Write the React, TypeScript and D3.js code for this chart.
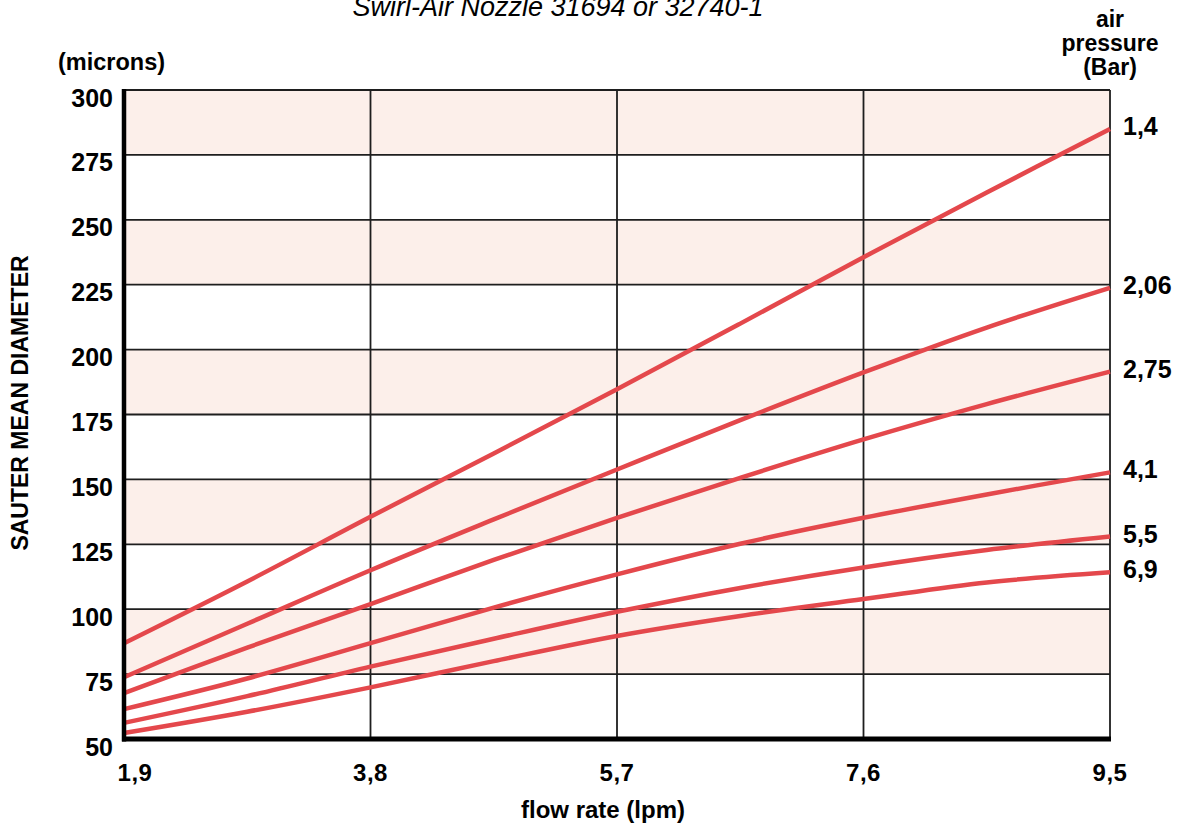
import React from "react";
import * as d3 from "d3";

// flow rate (lpm) sample points
const flowRates = [1.9, 2.85, 3.8, 4.75, 5.7, 6.65, 7.6, 8.55, 9.5];

// sauter mean diameter (microns) per air pressure
const p14 = [86.9, 110.7, 135.6, 160, 184.7, 210, 235.6, 260.5, 285];
const p206 = [73.8, 94.4, 115, 134.6, 153.8, 172.8, 191.2, 208.5, 223.8];
const p275 = [67.7, 85.2, 102, 119, 135.2, 150.6, 165.4, 179, 191.5];
const p41 = [61.5, 73.3, 86.9, 100.6, 113.4, 125.2, 135.2, 144.2, 152.7];
const p55 = [56.2, 66.5, 77.9, 88.6, 99, 108.2, 116.1, 122.8, 128];
const p69 = [52.3, 60.5, 69.9, 80, 89.7, 97.4, 103.9, 110.3, 114.2];

const pressureLabels = ["1,4", "2,06", "2,75", "4,1", "5,5", "6,9"];
const seriesValues = [p14, p206, p275, p41, p55, p69];

const yTicks = [50, 75, 100, 125, 150, 175, 200, 225, 250, 275, 300];
const xTicks = [1.9, 3.8, 5.7, 7.6, 9.5];
const xTickLabels = ["1,9", "3,8", "5,7", "7,6", "9,5"];
const shadedBands = [75, 125, 175, 225, 275];

const W = 1190;
const H = 827;
const FONT = "'Liberation Sans', Arial, sans-serif";
const RED = "#e4484c";

export default function App() {
  const x = d3.scaleLinear().domain([1.9, 9.5]).range([124, 1110]);
  const y = d3.scaleLinear().domain([50, 300]).range([739, 90]);

  const line = d3
    .line<number>()
    .x((_, i) => x(flowRates[i]))
    .y((d) => y(d))
    .curve(d3.curveCatmullRom);

  return (
    <svg
      width={W}
      height={H}
      style={{ position: "absolute", left: 0, top: 0, background: "#fff" }}
      fontFamily={FONT}
    >
      {/* shaded bands */}
      {shadedBands.map((b) => (
        <rect
          key={b}
          x={x(1.9)}
          y={y(b + 25)}
          width={x(9.5) - x(1.9)}
          height={y(b) - y(b + 25)}
          fill="#fcefea"
        />
      ))}

      {/* grid */}
      {yTicks.slice(1).map((t) => (
        <line key={t} x1={x(1.9)} x2={x(9.5)} y1={y(t)} y2={y(t)} stroke="#1e1e1e" strokeWidth={1.8} />
      ))}
      {xTicks.slice(1).map((t) => (
        <line key={t} x1={x(t)} x2={x(t)} y1={y(300)} y2={y(50)} stroke="#1e1e1e" strokeWidth={1.8} />
      ))}

      {/* curves */}
      {seriesValues.map((vals, i) => (
        <path key={i} d={line(vals) || ""} fill="none" stroke={RED} strokeWidth={4.5} />
      ))}

      {/* axes */}
      <line x1={x(1.9)} x2={x(1.9)} y1={y(300) - 1} y2={y(50) + 2.5} stroke="#000" strokeWidth={4.5} />
      <line x1={x(1.9) - 2} x2={x(9.5) + 1} y1={y(50)} y2={y(50)} stroke="#000" strokeWidth={5} />

      {/* y tick labels */}
      {yTicks.map((t) => (
        <text key={t} x={113} y={y(t) + 7.5} textAnchor="end" dominantBaseline="central" fontSize={25} fontWeight="bold">
          {t}
        </text>
      ))}

      {/* x tick labels */}
      {xTicks.map((t, i) => (
        <text key={t} x={x(t) + (i === 0 ? 11 : 0)} y={781} textAnchor="middle" fontSize={24} fontWeight="bold" letterSpacing={0.5}>
          {xTickLabels[i]}
        </text>
      ))}

      {/* series labels */}
      {seriesValues.map((vals, i) => (
        <text key={i} x={1123} y={y(vals[vals.length - 1]) - 3} dominantBaseline="central" fontSize={25} fontWeight="bold">
          {pressureLabels[i]}
        </text>
      ))}

      {/* titles */}
      <text x={558} y={16} textAnchor="middle" fontSize={27} fontStyle="italic">
        Swirl-Air Nozzle 31694 or 32740-1
      </text>
      <text x={58} y={70} fontSize={23.5} fontWeight="bold">(microns)</text>
      <text x={1110} textAnchor="middle" fontSize={23} fontWeight="bold">
        <tspan x={1110} y={27}>air</tspan>
        <tspan x={1110} y={51}>pressure</tspan>
        <tspan x={1110} y={75}>(Bar)</tspan>
      </text>
      <text x={603} y={818} textAnchor="middle" fontSize={24} fontWeight="bold">flow rate (lpm)</text>
      <text
        transform="translate(28,403) rotate(-90)"
        textAnchor="middle"
        fontSize={23}
        fontWeight="bold"
      >
        SAUTER MEAN DIAMETER
      </text>
    </svg>
  );
}
